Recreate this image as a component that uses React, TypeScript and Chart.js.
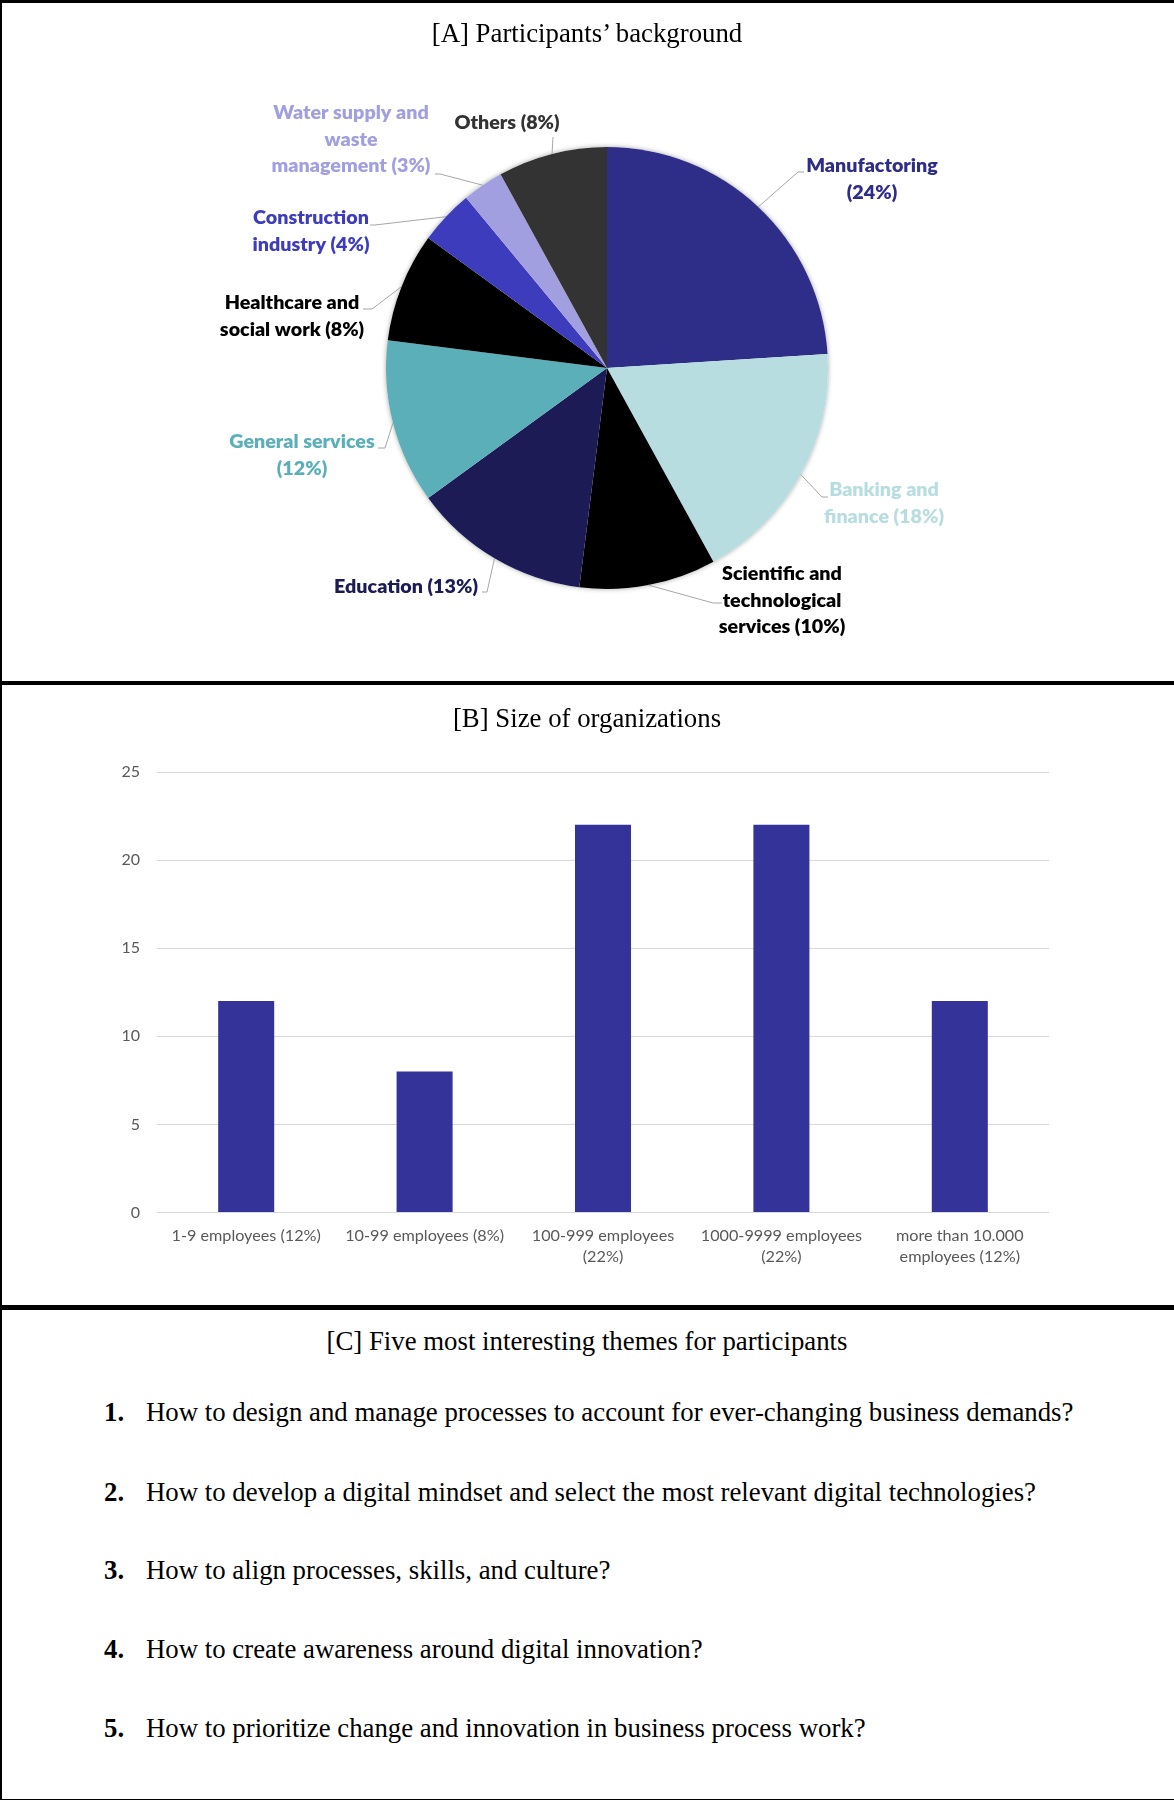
import React, { useEffect, useRef } from "react";
import { Chart, registerables } from "chart.js";

Chart.register(...registerables);

// ---------- Data: [A] Participants' background ----------
const sectorNames = [
  "Manufactoring",
  "Banking and finance",
  "Scientific and technological services",
  "Education",
  "General services",
  "Healthcare and social work",
  "Construction industry",
  "Water supply and waste management",
  "Others",
];
const sectorValues = [24, 18, 10, 13, 12, 8, 4, 3, 8];
const sectorLabelLines = [
  ["Manufactoring", "(24%)"],
  ["Banking and", "finance (18%)"],
  ["Scientific and", "technological", "services (10%)"],
  ["Education (13%)"],
  ["General services", "(12%)"],
  ["Healthcare and", "social work (8%)"],
  ["Construction", "industry (4%)"],
  ["Water supply and", "waste", "management (3%)"],
  ["Others (8%)"],
];

// ---------- Data: [B] Size of organizations ----------
const sizeCategories = [
  ["1-9 employees (12%)"],
  ["10-99 employees (8%)"],
  ["100-999 employees", "(22%)"],
  ["1000-9999 employees", "(22%)"],
  ["more than 10.000", "employees (12%)"],
];
const sizeValues = [12, 8, 22, 22, 12];
const sizeTicks = [0, 5, 10, 15, 20, 25];

// ---------- Data: [C] themes ----------
const themes = [
  "How to design and manage processes to account for ever-changing business demands?",
  "How to develop a digital mindset and select the most relevant digital technologies?",
  "How to align processes, skills, and culture?",
  "How to create awareness around digital innovation?",
  "How to prioritize change and innovation in business process work?",
];

const titleA = "[A] Participants\u2019 background";
const titleB = "[B] Size of organizations";
const titleC = "[C] Five most interesting themes for participants";

// ---------- Styles ----------
const sectorColors = [
  "#2e2d88",
  "#b8dde1",
  "#000000",
  "#1c1b55",
  "#5aafb8",
  "#000000",
  "#3c3cbc",
  "#a19fe0",
  "#333333",
];
const sectorLabelColors = [
  "#2e2d88",
  "#b8dde1",
  "#000000",
  "#1c1b55",
  "#5aafb8",
  "#000000",
  "#3c3cbc",
  "#a19fe0",
  "#333333",
];
// label placement relative to pie centre: text centre (cx, cy of first line), leader elbow (ex, ey) and end (tx, ty)
const sectorLabelLayout = [
  { cx: 265, cy: -202, ex: 191, ey: -196, tx: 197, ty: -196 },
  { cx: 277, cy: 122, ex: 215, ey: 129, tx: 221, ty: 129 },
  { cx: 175, cy: 206, ex: 106, ey: 235, tx: 115, ty: 235 },
  { cx: -201, cy: 219, ex: -120, ey: 224, tx: -125, ty: 224 },
  { cx: -305, cy: 74, ex: -222, ey: 80, tx: -229, ty: 80 },
  { cx: -315, cy: -65, ex: -235, ey: -59, tx: -244, ty: -59 },
  { cx: -296, cy: -150, ex: -232, ey: -143, tx: -237, ty: -143 },
  { cx: -256, cy: -255, ex: -167, ey: -194, tx: -172, ty: -194 },
  { cx: -100, cy: -245, ex: -54, ey: -231, tx: -54, ty: -231 },
];
const LABEL_LINE_GAP = 26.5;
const LABEL_FONT = "800 19.7px Lato, 'Open Sans', sans-serif";
const SERIF = "'Liberation Serif', 'Times New Roman', serif";
const SANS = "Lato, 'Open Sans', sans-serif";
const SERIF_SIZE = 26.8;

const pieLabelPlugin = {
  id: "pieLabels",
  beforeDatasetsDraw(chart: any) {
    const meta = chart.getDatasetMeta(0);
    if (!meta.data.length) return;
    const p = meta.data[0].getProps(["x", "y", "outerRadius"], true);
    const ctx = chart.ctx;
    ctx.save();
    ctx.beginPath();
    ctx.arc(p.x, p.y, p.outerRadius, 0, Math.PI * 2);
    ctx.shadowColor = "rgba(0,0,0,0.35)";
    ctx.shadowBlur = 5;
    ctx.fillStyle = "#ffffff";
    ctx.fill();
    ctx.restore();
  },
  afterDatasetsDraw(chart: any) {
    const meta = chart.getDatasetMeta(0);
    const ctx = chart.ctx;
    meta.data.forEach((el: any, i: number) => {
      const p = el.getProps(["x", "y", "startAngle", "endAngle", "outerRadius"], true);
      const mid = (p.startAngle + p.endAngle) / 2;
      const sx = p.x + Math.cos(mid) * p.outerRadius;
      const sy = p.y + Math.sin(mid) * p.outerRadius;
      const L = sectorLabelLayout[i];
      ctx.save();
      ctx.strokeStyle = "#a6a6a6";
      ctx.lineWidth = 1;
      ctx.beginPath();
      ctx.moveTo(sx, sy);
      ctx.lineTo(p.x + L.ex, p.y + L.ey);
      ctx.lineTo(p.x + L.tx, p.y + L.ty);
      ctx.stroke();
      ctx.font = LABEL_FONT;
      ctx.fillStyle = sectorLabelColors[i];
      ctx.textAlign = "center";
      ctx.textBaseline = "middle";
      sectorLabelLines[i].forEach((line, k) => {
        ctx.fillText(line, p.x + L.cx, p.y + L.cy + k * LABEL_LINE_GAP);
      });
      ctx.restore();
    });
  },
};

function PieChart() {
  const ref = useRef<HTMLCanvasElement | null>(null);
  useEffect(() => {
    if (!ref.current) return;
    const chart = new Chart(ref.current, {
      type: "pie",
      data: {
        labels: sectorNames,
        datasets: [
          {
            data: sectorValues,
            backgroundColor: sectorColors,
            borderWidth: 0,
          },
        ],
      },
      options: {
        responsive: false,
        animation: false,
        layout: { padding: { top: 144, left: 40, right: 0, bottom: 92 } },
        plugins: {
          legend: { display: false },
          tooltip: { enabled: false },
          title: { display: false },
        },
      },
      plugins: [pieLabelPlugin],
    } as any);
    return () => chart.destroy();
  }, []);
  return (
    <canvas
      ref={ref}
      width={1174}
      height={678}
      style={{ position: "absolute", left: 0, top: 3, width: 1174, height: 678 }}
    />
  );
}

function BarChart() {
  const ref = useRef<HTMLCanvasElement | null>(null);
  useEffect(() => {
    if (!ref.current) return;
    const chart = new Chart(ref.current, {
      type: "bar",
      data: {
        labels: sizeCategories,
        datasets: [
          {
            data: sizeValues,
            backgroundColor: "#333399",
            borderWidth: 0,
            barPercentage: 0.314,
            categoryPercentage: 1,
          },
        ],
      },
      options: {
        responsive: false,
        animation: false,
        layout: { padding: { top: 87, left: 0, right: 125, bottom: 0 } },
        plugins: {
          legend: { display: false },
          tooltip: { enabled: false },
          title: { display: false },
        },
        scales: {
          x: {
            grid: { display: false },
            border: { display: false },
            ticks: {
              color: "#595959",
              font: { family: SANS, size: 16.2, lineHeight: 1.35 },
              padding: 3.9,
              maxRotation: 0,
              autoSkip: false,
            },
            afterFit: (s: any) => {
              s.height = 92.5;
            },
          },
          y: {
            min: 0,
            max: 25,
            afterBuildTicks: (s: any) => {
              s.ticks = sizeTicks.map((v) => ({ value: v }));
            },
            grid: { color: "#d9d9d9", drawTicks: false, lineWidth: 1 },
            border: { display: false },
            ticks: {
              color: "#595959",
              font: { family: SANS, size: 16 },
              padding: 17,
            },
            afterFit: (s: any) => {
              s.width = 157;
            },
          },
        },
      },
    } as any);
    return () => chart.destroy();
  }, []);
  return (
    <canvas
      ref={ref}
      width={1174}
      height={620}
      style={{ position: "absolute", left: 0, top: 685, width: 1174, height: 620 }}
    />
  );
}

const themeY = [1412, 1492, 1570, 1649, 1728];

function Title({ text, y }: { text: string; y: number }) {
  return (
    <div
      style={{
        position: "absolute",
        left: 0,
        width: 1174,
        top: y - 16,
        height: 32,
        lineHeight: "32px",
        textAlign: "center",
        fontSize: SERIF_SIZE,
        color: "#000",
        whiteSpace: "nowrap",
      }}
    >
      {text}
    </div>
  );
}

export default function App() {
  const bar = (l: number, t: number, w: number, h: number) => (
    <div style={{ position: "absolute", left: l, top: t, width: w, height: h, background: "#000" }} />
  );
  return (
    <div
      style={{
        position: "absolute",
        left: 0,
        top: 0,
        width: 1174,
        height: 1800,
        background: "#fff",
        overflow: "hidden",
        fontFamily: SERIF,
      }}
    >
      <PieChart />
      <BarChart />
      <Title text={titleA} y={32.7} />
      <Title text={titleB} y={718} />
      <Title text={titleC} y={1341} />
      {themes.map((t, i) => (
        <div
          key={i}
          style={{
            position: "absolute",
            left: 104,
            top: themeY[i] - 16,
            height: 32,
            lineHeight: "32px",
            fontSize: SERIF_SIZE,
            color: "#000",
            whiteSpace: "nowrap",
          }}
        >
          <span style={{ fontWeight: "bold", display: "inline-block", width: 42 }}>{i + 1}.</span>
          <span>{t}</span>
        </div>
      ))}
      {bar(0, 0, 1174, 3)}
      {bar(0, 0, 2, 1800)}
      {bar(0, 681, 1174, 4)}
      {bar(0, 1305, 1174, 5)}
      {bar(0, 1799, 1174, 1)}
    </div>
  );
}
